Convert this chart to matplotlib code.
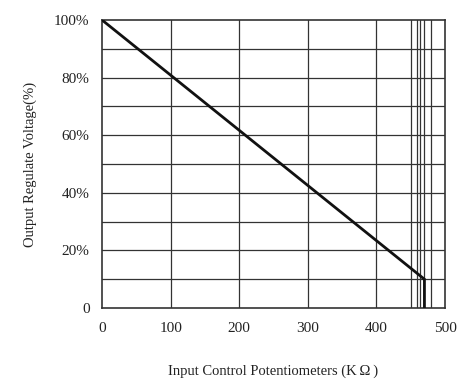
import matplotlib
matplotlib.use("Agg")
import matplotlib.pyplot as plt

# data
curve_x = [0, 470, 470]
curve_y = [100, 10, 0]
x_ticks = [0, 100, 200, 300, 400, 500]
y_ticks = [0, 20, 40, 60, 80, 100]
y_tick_labels = ["0", "20%", "40%", "60%", "80%", "100%"]
y_grid = [10, 20, 30, 40, 50, 60, 70, 80, 90]
x_grid = [100, 200, 300, 400, 450, 459, 463, 470, 480]

plt.rcParams["font.family"] = ["Liberation Serif", "DejaVu Serif"]

fig = plt.figure(figsize=(4.61, 3.89), dpi=100)
ax = fig.add_axes([0.2213, 0.2082, 0.7440, 0.7404])

# grid lines
for gx in x_grid:
    ax.axvline(gx, color="#333333", lw=0.9, zorder=1)
for gy in y_grid:
    ax.axhline(gy, color="#333333", lw=0.9, zorder=1)

# curve
ax.plot(curve_x, curve_y, color="#111111", lw=2.0, zorder=3, solid_joinstyle="miter")

ax.set_xlim(0, 500)
ax.set_ylim(0, 100)
ax.set_xticks(x_ticks)
ax.set_yticks(y_ticks)
ax.set_yticklabels(y_tick_labels)
ax.tick_params(length=0, labelsize=11, colors="#222222")
ax.tick_params(axis="x", pad=10)
ax.tick_params(axis="y", pad=9)

for sp in ax.spines.values():
    sp.set_color("#333333")
    sp.set_linewidth(1.2)

ax.set_xlabel("Input Control Potentiometers (K\u2009\u03a9\u2009)", fontsize=10.5,
              color="#222222", labelpad=21)
ax.set_ylabel("Output Regulate Voltage(%)", fontsize=10.5, color="#222222",
              labelpad=12)

fig.savefig("out.png", dpi=100)
